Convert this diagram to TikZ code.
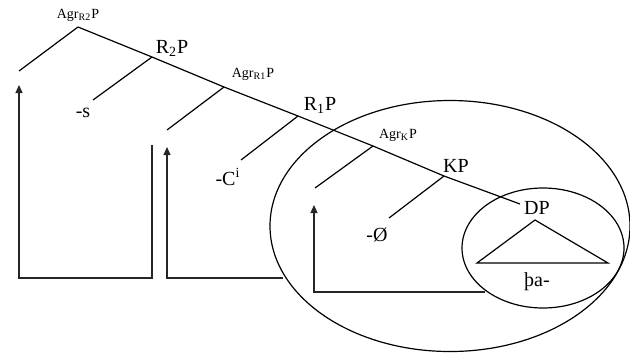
\documentclass[tikz,border=0pt]{standalone}
\usepackage{fontspec}
\setmainfont{Liberation Serif}
\usetikzlibrary{arrows.meta,positioning}

\begin{document}
\begin{tikzpicture}[x=0.5pt,y=-0.5pt,line width=0.6pt]
\tikzset{lbl/.style={font=\fontsize{10}{11}\selectfont,inner sep=0pt},
  slbl/.style={font=\fontsize{7}{8}\selectfont,inner sep=0pt},
  move/.style={black!85,-{Triangle[length=4pt,width=3.5pt]}}}
\useasboundingbox (0,0) rectangle (630,354);

% spine of the tree
\coordinate (agrtwo) at (78,27);
\coordinate (rtwo) at (152,57);
\coordinate (agrone) at (224,87);
\coordinate (rone) at (298,116);
\coordinate (agrk) at (373,146);
\coordinate (k) at (444,176);
\coordinate (d) at (520,204);
\draw (agrtwo)--(rtwo)--(agrone)--(rone)--(agrk)--(k)--(d);

% left branches
\coordinate (specagrtwo) at (19,71);
\coordinate (headrtwo) at (93,100);
\coordinate (specagrone) at (167,130);
\coordinate (headrone) at (241,160);
\coordinate (specagrk) at (315,188);
\coordinate (headk) at (389,218);
\draw (agrtwo)--(specagrtwo);
\draw (rtwo)--(headrtwo);
\draw (agrone)--(specagrone);
\draw (rone)--(headrone);
\draw (agrk)--(specagrk);
\draw (k)--(headk);

% labels
\node[slbl] (lagrtwo) at (78,15) {Agr\textsubscript{R2}P};
\node[lbl] (lrtwo) at (172,48) {R\textsubscript{2}P};
\node[slbl] (lagrone) at (253,74) {Agr\textsubscript{R1}P};
\node[lbl] (lrone) at (320,105) {R\textsubscript{1}P};
\node[slbl] (lagrk) at (398,135) {Agr\textsubscript{K}P};
\node[lbl] (lk) at (456,166) {KP};
\node[lbl] (ld) at (537,208) {DP};
\node[lbl] (ls) at (83,113) {-s};
\node[lbl] (lc) at (228,177) {-C\textsuperscript{i}};
\node[lbl] (lnull) at (377,235) {-Ø};
\node[lbl] (lpa) at (537,282) {þa-};

% DP triangle
\coordinate (dtop) at (535,220);
\coordinate (dleft) at (477,263);
\coordinate (dright) at (608,263);
\draw (dleft)--(dtop)--(dright)--cycle;

% ellipses
\draw (450,226) ellipse [x radius=180,y radius=125.5];
\draw (543,248) ellipse [x radius=81,y radius=60];

% movement arrows
\coordinate (aonestart) at (152,145);
\coordinate (aonecorner) at (152,278);
\coordinate (aonecornerb) at (19,278);
\coordinate (aoneend) at (19,85);
\draw[move] (aonestart)--(aonecorner)--(aonecornerb)--(aoneend);
\coordinate (atwostart) at (283,278);
\coordinate (atwocorner) at (167,278);
\coordinate (atwoend) at (167,147);
\draw[move] (atwostart)--(atwocorner)--(atwoend);
\coordinate (athreestart) at (485,292);
\coordinate (athreecorner) at (314,292);
\coordinate (athreeend) at (314,205);
\draw[move] (athreestart)--(athreecorner)--(athreeend);
\end{tikzpicture}
\end{document}
